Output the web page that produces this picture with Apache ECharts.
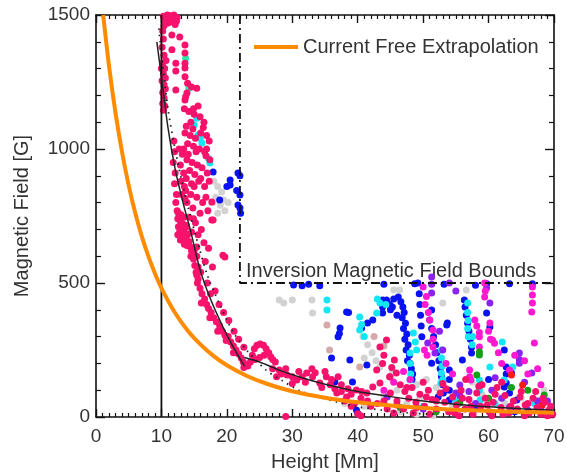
<!DOCTYPE html>
<html>
<head>
<meta charset="utf-8">
<script src="https://cdn.jsdelivr.net/npm/echarts@6/dist/echarts.min.js"></script>
<style>html,body{margin:0;padding:0;background:#fff}#c{width:567px;height:476px}</style>
</head>
<body>
<div id="c"></div>
<script>
// ---- data ----
const xTicks = [0, 10, 20, 30, 40, 50, 60, 70];
const yTicks = [0, 500, 1000, 1500];

const currentFree = [[1.1,1500],[2,1308],[3,1132],[4,986],[5,864],[6,761],[7,674],[8,600],[9,536],[10,481],[12,392],[14,323],[16,270],[18,227],[20,193],[23,154],[26,125],[30,96],[35,72],[40,55],[45,43],[50,34],[55,27],[60,23],[65,19],[70,16]];

const fitSteep = [[9.3,1400],[10,1270],[11,1080],[12.1,925],[13.3,800],[14.4,700],[15.9,550],[17.5,440],[19.4,336],[21,260],[22.7,190]];
const fitFlat = [[22.7,222],[25,205],[28,175],[31,150],[35,122],[40,95],[45,76],[50,60],[55,48],[60,38],[65,31],[70,25]];
const fitDotted = [[9.6,1450],[11,1150],[12.5,950],[14,790],[15.9,620],[17,530],[18.9,420],[20.9,320],[23,250],[26,175],[28.5,135],[31,100],[34,75],[37,55],[40,38],[44,25],[48,15],[52,10]];

const heightLine = [[10,0],[10,1500]];
const boundsBox = [[22,1500],[22,500],[70,500]];

const pinkPts = [
[10.3,1495],[10.8,1490],[11.2,1498],[11.6,1492],[12.0,1485],[12.3,1478],[10.6,1480],[11.0,1470],[11.5,1475],[12.1,1465],[10.4,1460],[10.9,1500],[11.9,1500],[12.4,1490],
[11.6,1425],[12.8,1418],[13.6,1388],[11.6,1370],[13.6,1358],[12.2,1320],[13.6,1320],[12.2,1291],[13.6,1302],[13.6,1270],[15.4,1227],[14.6,1231],[13.9,1209],[13.6,1183],[12.2,1220],[14.0,1245],[13.7,1195],
[10.2,1440],[10.3,1410],[10.1,1380],[10.4,1350],[10.2,1320],[10.5,1300],[10.3,1280],[10.1,1255],[10.4,1240],[10.6,1225],[10.2,1210],[10.4,1190],[10.2,1170],[10.5,1160],[10.3,1145],[10.6,1265],[10.0,1300],[10.7,1330],
[13.5,1150],[14.2,1140],[15.0,1130],[15.9,1120],[14.5,1100],[13.8,1085],[14.8,1075],[16.4,1080],[13.6,1060],[14.4,1050],[15.2,1040],[16.9,1050],[17.3,1030],[14.0,1020],[14.9,1010],[15.8,1000],[16.6,990],[13.4,1000],
[13.9,960],[14.7,950],[15.5,940],[16.8,975],[17.4,960],[16.2,930],[14.3,920],[15.1,905],[13.8,890],[14.6,870],[15.7,880],[16.6,860],[13.7,845],[14.5,830],[15.4,820],[16.3,800],[13.9,800],[14.8,780],[15.9,760],[17.7,802],[17.7,735],[14.2,745],[15.2,725],[16.1,700],[14.6,690],[13.8,710],
[11.9,1030],[12.0,990],[11.8,950],[12.1,910],[12.0,870],[12.3,830],[12.2,800],[12.4,770],[12.5,740],[12.6,710],[12.8,690],[12.5,680],[12.9,660],
[12.6,760],[13.0,755],[13.4,745],[12.9,730],[13.3,720],[13.8,715],[13.1,700],[13.5,690],[14.0,680],[13.3,670],[13.7,660],[14.2,655],[13.9,640],[14.4,635],[13.5,645],
[12.7,1000],[13.2,980],[12.9,940],[13.4,910],[13.0,880],[13.5,860],[13.1,830],[13.6,815],[14.1,980],[15.3,990],[16.0,1060],[16.5,1100],[14.9,1150],[15.6,1160],[16.9,1000],[17.0,910],[16.0,890],[15.0,860],[17.3,880],[16.8,820],[17.1,770],[14.9,740],[15.6,680],[16.5,650],[17.2,630],[16.7,580],[17.8,560],[14.5,600],[15.0,620],[16.0,540],[17.0,500],[18.2,470],[17.5,460],[18.8,420],[19.5,390],[20.3,360],[21.1,320],[21.8,290],[22.6,260],
[15.4,634],[15.4,600],[15.6,560],[15.4,530],[19.7,597],[19.4,604],[17.9,735],
[14.6,620],[14.9,590],[15.1,565],[15.3,540],[15.6,515],[15.5,500],[15.9,480],[16.2,460],[16.6,440],[16.1,425],[16.9,420],[17.2,405],[17.6,390],[17.4,370],[18.0,370],[18.4,355],[18.9,340],[18.6,320],[19.3,320],[19.7,305],[20.2,300],[19.9,285],[20.6,280],[21.0,265],[21.4,250],[21.0,240],[21.8,235],[22.2,220],[22.5,205],[22.9,195],[23.2,190],[22.6,185],
[23.6,205],[23.9,230],[24.2,255],[24.6,268],[25.1,272],[25.6,268],[26.0,255],[26.4,240],[26.7,225],[27.0,215],[27.4,205],[24.3,215],[25.0,222],[25.7,230],
[27.6,150],[28.3,160],[29.2,157],[30.0,150],[30.7,138],[31.5,150],[32.2,164],[33.1,150],[34.2,127],[35.2,150],[35.8,120],[36.8,90],[37.5,95],[38.3,75],[39.0,85],[39.8,101],[40.6,95],[41.4,90],[42.3,112],[43.4,127],[44.9,150],[45.9,164],[28.0,175],[29.0,180],[31.0,170],[33.5,165],[36.0,140],[37.5,120],[38.5,105],[40.5,70],[41.5,60],[43.0,50],[39.5,50],
[30.0,125],[32.0,130],[34.5,110],[36.5,105],[38.0,60],[39.0,40],[42.0,40],[44.0,60],[45.0,90],[46.0,45],[33.0,180],[35.0,170],[37.0,150],[27.0,180],
[40.0,12],[40.5,5],[29.0,2],
[42.9,175],[43.4,261],[44.4,287],[45.6,213],[44.9,150],[44.0,230],[45.2,185],[43.8,200],
[46.5,120],[47.2,95],[47.8,70],[48.3,110],[48.9,55],[49.5,85],[50.2,40],[50.8,100],[51.4,65],[52.0,30],[52.6,90],[53.3,55],[53.9,20],[54.5,75],[55.1,45],[55.8,100],[56.4,30],[57.0,65],[57.6,10],[58.2,90],[58.8,40],[59.5,70],[60.1,20],[60.7,55],[61.3,110],[61.9,35],[62.5,80],[63.1,15],[63.8,60],[64.4,30],[65.0,95],[65.6,45],[66.2,15],[66.8,70],[67.4,35],[68.0,10],[68.6,55],[69.2,25],[46.0,60],[47.0,30],[48.5,15],[51.0,10],[55.5,5],[60.5,5],[65.5,5],[69.0,5],[50.0,130],[53.0,125],[56.5,140],[59.0,120],[62.0,130],
[44.5,30],[45.5,15],[47.5,110],[49.0,35],[50.5,75],[52.0,60],[53.5,105],[54.8,15],[56.0,70],[57.3,40],[58.5,115],[59.8,45],[61.0,85],[62.2,10],[63.4,40],[64.8,75],[66.0,50],[67.2,95],[68.3,70],[69.5,40],[69.8,10]
];

const magentaPts = [[50.0,485],[50.5,450],[50.3,420],[50.8,390],[51.0,362],[51.5,325],[51.5,290],[51.5,261],[50.2,250],[50.6,230],[57.9,362],[58.2,340],[58.6,315],[58.6,299],[59.4,500],[59.5,470],[59.4,448],[60.6,287],[60.9,275],[63.2,175],[66.7,485],[66.7,455],[66.7,425],[66.6,392],[67.0,276],[58.6,261],[57.1,175],[57.1,150],[57.3,138],[60.2,351],[60.0,320],[60.3,290],[61.5,240],[62.0,200],[64.0,230],[65.5,210],[66.0,160],[68.0,120],[67.5,180],[53.5,200],[54.5,160],[47.0,170],[48.0,140],[45.5,130],[44.0,100]];

const bluePts = [[17.9,914],[20.5,884],[20.5,866],[21.7,910],[22.0,828],[21.7,791],[22.0,780],[21.5,845],[22.0,900],[22.1,760],[18.9,810],[20.0,860],
[30.2,493],[31.5,490],[32.5,495],[34.2,490],[44.0,495],[48.7,497],[53.2,495],[58.0,492],[59.7,497],[63.2,497],[66.7,497],
[38.3,392],[38.6,390],[37.3,332],[37.0,299],[37.2,312],[36.0,220],[38.8,213],[41.4,194],[36.5,131],[39.2,131],[39.8,26],[40.0,14],[40.6,332],[41.5,351],[42.3,362],[43.8,437],[43.8,410],[43.8,388],[44.4,437],[44.9,420],[45.3,410],
[46.2,448],[46.6,430],[46.9,410],[47.1,390],[46.8,370],[47.3,350],[47.0,330],[47.5,310],[47.2,290],[47.7,270],[47.4,250],[47.9,230],[47.6,210],[48.0,201],[45.5,440],[45.0,400],[46.0,380],[48.2,180],[48.4,160],[48.3,140],
[51.0,362],[51.3,330],[51.6,300],[51.9,270],[52.1,240],[52.4,210],[52.6,180],[52.8,150],[53.0,120],[53.1,90],[52.3,75],[53.7,351],[54.0,175],[54.0,140],[54.0,100],[54.0,63],
[49.2,500],[49.4,460],[49.5,420],[49.6,380],[49.7,340],[49.8,299],[51.3,399],[51.3,201],[53.6,343],
[56.3,437],[56.4,410],[56.6,380],[56.8,350],[57.0,320],[57.2,290],[57.4,260],[57.4,239],[56.0,213],[59.7,388],[60.2,336],[62.4,250],[62.7,187],[62.7,160],[62.7,127],[62.4,112],[63.2,90],[64.3,63],[63.5,164],[60.0,140],[58.0,30],[64.0,20]];

const cyanPts = [[15.4,1115],[15.6,1052],[16.2,1022],[15.9,1040],[17.4,948],[17.2,965],[15.0,1090],
[35.3,437],[35.3,399],[40.3,373],[40.3,325],[40.6,345],[42.9,388],[43.4,425],[41.0,300],[43.0,440],[44.3,420],
[48.0,239],[48.0,200],[48.1,160],[48.0,138],[48.5,313],[48.8,280],[49.0,250],[52.8,250],[52.8,220],[52.9,190],[52.8,164],[53.0,140],[52.7,127],[56.8,425],[56.8,390],[56.9,360],[56.8,330],[56.9,299],[57.6,300],[57.5,270],[58.6,138],[58.6,100],[58.7,63],[62.1,280],[63.7,187],[60.2,187],[62.4,138],[50.0,40],[55.0,60],[61.0,50],[67.0,50]];

const purplePts = [[51.3,522],[51.3,495],[51.3,463],[50.7,276],[51.8,239],[59.7,481],[60.2,425],[64.7,239],[64.7,215],[64.7,201],[66.6,164],[61.0,146],[55.6,119],[63.2,37],[66.0,25],[67.5,60],[62.0,70],[58.0,50],[55.0,90],[50.0,30],[44.5,75],[55.6,80],[53.0,250],[52.5,320],[55.0,470],[54.0,500],[65.5,130],[68.0,30],[69.0,60],[60.5,100],[57.0,95]];

const grayPts = [[18.0,880],[18.6,860],[19.2,840],[18.3,820],[19.0,790],[19.7,770],[18.6,760],[20.2,800],[19.5,810],[17.8,800],
[28.0,437],[28.7,425],[30.0,437],[33.0,437],[33.1,388],[40.8,300],[41.5,270],[42.2,240],[41.0,220],[42.8,210],[43.4,187],[45.3,175],[45.3,138],[45.5,474],[46.4,474],[53.0,425],[56.6,474],[44.0,80],[46.0,100],[47.5,50],[49.0,120],[50.5,140],[49.5,70],[52.0,110],[54.5,40],[57.5,130],[59.0,85],[62.5,50],[65.0,70],[68.5,100],[46.5,20],[51.5,5],[49.0,10],[55.0,20],[41.0,40],[38.0,50]];

const rosyPts = [[35.3,343],[35.7,250],[40.3,187],[42.5,300],[44.0,265]];
const greenPts = [[58.6,243],[58.6,231],[58.2,157],[58.9,119],[68.5,82],[55.6,52],[66.0,100],[60.0,70],[63.5,110],[52.0,20],[46.5,35]];
const tealPts = [[13.7,1339],[14.2,1227],[14.4,1232]];
const redPts = [[65.2,119],[63.5,157],[68.2,45]];

// ---- chart ----
const TXT = '#333';
const FONT = '"Liberation Sans", Arial, sans-serif';
function scat(name, data, color, z) {
  return { name, type: 'scatter', data, symbolSize: 7, itemStyle: { color, opacity: 1 }, z: z || 2, silent: true, clip: true };
}
const axisCommon = {
  axisLine: { show: true, onZero: false, lineStyle: { color: '#111', width: 1.6 } },
  axisTick: { show: true, inside: true, length: 8, lineStyle: { color: '#111', width: 1.4 } },
  minorTick: { show: true, length: 4, lineStyle: { color: '#111', width: 1.2 } },
  splitLine: { show: false }
};
const chart = echarts.init(document.getElementById('c'), null, { renderer: 'canvas' });
chart.setOption({
  animation: false,
  backgroundColor: '#fff',
  textStyle: { fontFamily: FONT },
  grid: { left: 96, right: 13, top: 15, bottom: 59, outerBoundsMode: 'none', containLabel: false },
  legend: {
    data: ['Current Free Extrapolation'], left: 249, top: 32, itemWidth: 44, itemHeight: 4, icon: 'rect',
    textStyle: { fontSize: 20, color: TXT, fontFamily: FONT }, itemStyle: { color: '#ff8c00' }
  },
  xAxis: [
    Object.assign({}, axisCommon, {
      type: 'value', min: 0, max: 70, interval: 10, position: 'bottom',
      minorTick: Object.assign({}, axisCommon.minorTick, { splitNumber: 10 }),
      axisLabel: { show: true, fontSize: 19, color: TXT, margin: 10, fontFamily: FONT,
        formatter: v => xTicks.includes(v) ? String(v) : '' },
      name: 'Height [Mm]', nameLocation: 'middle', nameGap: 35,
      nameTextStyle: { fontSize: 20, color: TXT, fontFamily: FONT }
    }),
    Object.assign({}, axisCommon, {
      type: 'value', min: 0, max: 70, interval: 10, position: 'top',
      minorTick: Object.assign({}, axisCommon.minorTick, { splitNumber: 10 }),
      axisLabel: { show: false }
    })
  ],
  yAxis: [
    Object.assign({}, axisCommon, {
      type: 'value', min: 0, max: 1500, interval: 500, position: 'left',
      axisTick: Object.assign({}, axisCommon.axisTick, { length: 9 }),
      minorTick: Object.assign({}, axisCommon.minorTick, { splitNumber: 5, length: 5 }),
      axisLabel: { show: true, fontSize: 19, color: TXT, margin: 6, fontFamily: FONT,
        formatter: v => yTicks.includes(v) ? String(v) : '' },
      name: 'Magnetic Field [G]', nameLocation: 'middle', nameGap: 64, nameRotate: 90,
      nameTextStyle: { fontSize: 20, color: TXT, fontFamily: FONT }
    }),
    Object.assign({}, axisCommon, {
      type: 'value', min: 0, max: 1500, interval: 500, position: 'right',
      axisTick: Object.assign({}, axisCommon.axisTick, { length: 9 }),
      minorTick: Object.assign({}, axisCommon.minorTick, { splitNumber: 5, length: 5 }),
      axisLabel: { show: false }
    })
  ],
  graphic: [{
    type: 'text', left: 246, top: 261, silent: true,
    style: { text: 'Inversion Magnetic Field Bounds', fontSize: 20, fill: TXT, fontFamily: FONT }
  }],
  series: [
    scat('gray', grayPts, '#d2d2d2', 2),
    scat('rosy', rosyPts, '#d4a9a9', 2),
    scat('blue', bluePts, '#0a12f2', 3),
    scat('cyan', cyanPts, '#14e6f6', 3),
    scat('purple', purplePts, '#8a22f0', 3),
    scat('magenta', magentaPts, '#ff18d0', 3),
    scat('green', greenPts, '#16a016', 4),
    scat('teal', tealPts, '#2ee8a4', 4),
    scat('red', redPts, '#ff1a1a', 4),
    scat('pink', pinkPts, '#f7126c', 4),
    { name: 'h10', type: 'line', data: heightLine, symbol: 'none', lineStyle: { color: '#111', width: 1.8 }, z: 5, silent: true },
    { name: 'bounds', type: 'line', data: boundsBox, symbol: 'none', lineStyle: { color: '#111', width: 1.8, type: [9, 4, 2, 4] }, z: 5, silent: true },
    { name: 'fitDotted', type: 'line', data: fitDotted, symbol: 'none', smooth: 0.3, lineStyle: { color: '#222', width: 1.8, type: [1.5, 5] }, z: 6, silent: true },
    { name: 'fitSteep', type: 'line', data: fitSteep, symbol: 'none', smooth: 0.3, lineStyle: { color: '#222', width: 1.5 }, z: 6, silent: true },
    { name: 'fitFlat', type: 'line', data: fitFlat, symbol: 'none', smooth: 0.3, lineStyle: { color: '#222', width: 1.5 }, z: 6, silent: true },
    { name: 'Current Free Extrapolation', type: 'line', data: currentFree, symbol: 'none', smooth: 0.3, clip: true,
      lineStyle: { color: '#ff8c00', width: 4 }, itemStyle: { color: '#ff8c00' }, z: 7, silent: true }
  ]
});
</script>
</body>
</html>
